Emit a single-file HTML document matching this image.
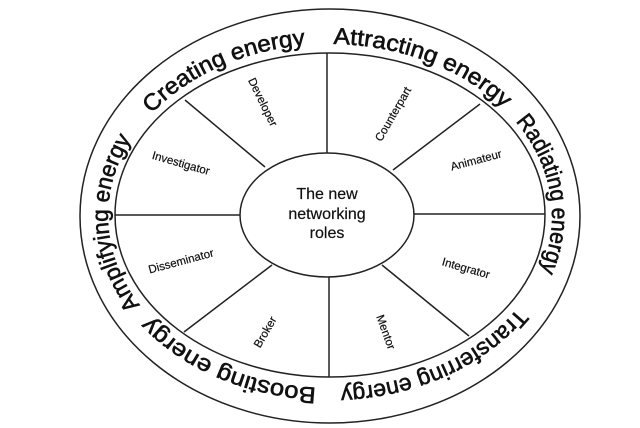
<!DOCTYPE html>
<html><head><meta charset="utf-8"><style>
html,body{margin:0;padding:0;background:#fff;}
svg{display:block;}
text{font-family:"Liberation Sans",Arial,sans-serif;fill:#111;}
</style></head><body>
<svg width="640" height="428" viewBox="0 0 640 428" xmlns="http://www.w3.org/2000/svg">
<defs>
<path id="ring" pathLength="720" d="M108,216 A222,172 0 1,1 552,216 A222,172 0 1,1 108,216 A222,172 0 1,1 552,216 A222,172 0 1,1 108,216"/>
</defs>
<g fill="none" stroke="#222" stroke-width="1.5">
<ellipse cx="330" cy="216" rx="250" ry="207"/>
<ellipse cx="330" cy="215" rx="215" ry="162"/>
<ellipse cx="327" cy="215" rx="87" ry="62"/>
<line x1="327" y1="53" x2="327" y2="153"/>
<line x1="329" y1="277" x2="329" y2="377"/>
<line x1="115" y1="215" x2="240" y2="215"/>
<line x1="414" y1="214" x2="545" y2="214"/>
<line x1="185" y1="100" x2="265" y2="167"/>
<line x1="480" y1="104" x2="393" y2="170"/>
<line x1="184" y1="332" x2="272" y2="265"/>
<line x1="469" y1="336" x2="382" y2="265"/>
</g>
<g font-size="23" stroke="#111" stroke-width="0.6">
<text><textPath href="#ring" startOffset="332" textLength="178" lengthAdjust="spacingAndGlyphs">Amplifying energy</textPath></text>
<text><textPath href="#ring" startOffset="33" textLength="172" lengthAdjust="spacingAndGlyphs">Creating energy</textPath></text>
<text><textPath href="#ring" startOffset="91" textLength="186" lengthAdjust="spacingAndGlyphs">Attracting energy</textPath></text>
<text><textPath href="#ring" startOffset="150" textLength="160" lengthAdjust="spacingAndGlyphs">Radiating energy</textPath></text>
<text><textPath href="#ring" startOffset="209" textLength="200" lengthAdjust="spacingAndGlyphs">Transferring energy</textPath></text>
<text><textPath href="#ring" startOffset="274" textLength="185" lengthAdjust="spacingAndGlyphs">Boosting energy</textPath></text>
</g>
<g font-size="16" text-anchor="middle" stroke="#111" stroke-width="0.2">
<text x="327" y="199">The new</text>
<text x="327" y="219">networking</text>
<text x="327" y="238">roles</text>
</g>
<g font-size="11.5" text-anchor="middle" stroke="#111" stroke-width="0.2">
<text transform="translate(263,102) rotate(64)" dy="4">Developer</text>
<text transform="translate(393,114) rotate(-60)" dy="4">Counterpart</text>
<text transform="translate(476,160) rotate(-15)" dy="4">Animateur</text>
<text transform="translate(181,163) rotate(16)" dy="4">Investigator</text>
<text transform="translate(181,261) rotate(-15)" dy="4">Disseminator</text>
<text transform="translate(466,268) rotate(16)" dy="4">Integrator</text>
<text transform="translate(265,332) rotate(-60)" dy="4">Broker</text>
<text transform="translate(386,332) rotate(70)" dy="4">Mentor</text>
</g>
</svg>
</body></html>
